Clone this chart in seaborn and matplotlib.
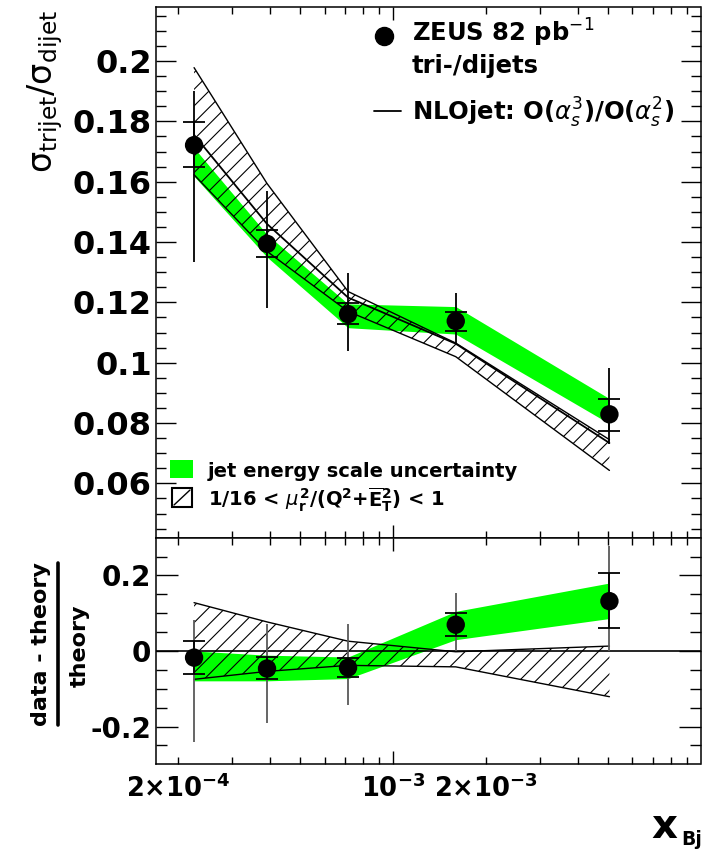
import matplotlib
matplotlib.use('Agg')
import numpy as np
import matplotlib.pyplot as plt
import seaborn as sns
from matplotlib.patches import Rectangle
from matplotlib.lines import Line2D

# x_Bj bin centres
x_bj = [2.26e-4, 3.9e-4, 7.15e-4, 1.6e-3, 5.05e-3]

# top panel: sigma_trijet / sigma_dijet
ratio_data = [0.1721, 0.1394, 0.1161, 0.1138, 0.0829]
stat_lo = [0.1649, 0.1352, 0.1128, 0.1106, 0.0773]
stat_hi = [0.1798, 0.1440, 0.1197, 0.1169, 0.0881]
tot_lo = [0.1333, 0.1181, 0.1039, 0.1064, 0.0732]
tot_hi = [0.1900, 0.1568, 0.1299, 0.1230, 0.0981]
jes_lo = [0.1618, 0.1350, 0.1116, 0.1095, 0.0798]
jes_hi = [0.1712, 0.1425, 0.1195, 0.1186, 0.0881]
nlo = [0.1755, 0.1460, 0.1216, 0.1063, 0.0734]
nlo_lo = [0.1623, 0.1369, 0.1170, 0.1020, 0.0643]
nlo_hi = [0.1978, 0.1594, 0.1236, 0.1065, 0.0745]

# bottom panel: (data - theory) / theory
diff_data = [-0.0175, -0.0465, -0.044, 0.0696, 0.132]
diff_stat_lo = [-0.0615, -0.0747, -0.0686, 0.0388, 0.0607]
diff_stat_hi = [0.0256, -0.0158, -0.0185, 0.1003, 0.2058]
diff_tot_lo = [-0.240, -0.1916, -0.1433, 0.0, 0.0]
diff_tot_hi = [0.081, 0.0704, 0.0704, 0.154, 0.279]
diff_jes_lo = [-0.079, -0.079, -0.073, 0.030, 0.086]
diff_jes_hi = [0.0, -0.011, -0.016, 0.105, 0.180]
diff_nlo_lo = [-0.075, -0.054, -0.038, -0.042, -0.121]
diff_nlo_hi = [0.128, 0.077, 0.026, -0.002, 0.013]

top_yticks = [0.06, 0.08, 0.1, 0.12, 0.14, 0.16, 0.18, 0.2]
bot_yticks = [-0.2, 0, 0.2]
x_minor = [2e-4, 3e-4, 4e-4, 5e-4, 6e-4, 7e-4, 8e-4, 9e-4,
           2e-3, 3e-3, 4e-3, 5e-3, 6e-3, 7e-3, 8e-3, 9e-3]
x_minor_labels = {2e-4: r'$\mathbf{2{\times}10^{-4}}$', 2e-3: r'$\mathbf{2{\times}10^{-3}}$'}

sns.set_style('ticks')
plt.rcParams['font.family'] = ['DejaVu Sans']
plt.rcParams['mathtext.fontset'] = 'dejavusans'
plt.rcParams['hatch.linewidth'] = 0.8
for k in ('text.color', 'axes.labelcolor', 'xtick.color', 'ytick.color', 'axes.edgecolor'):
    plt.rcParams[k] = 'black'

GREEN = '#00ff00'
W, H = 704, 849
fig = plt.figure(figsize=(W / 100, H / 100), dpi=100)


def fx(p):
    return p / W


def fy(p):
    return 1 - p / H


ax1 = fig.add_axes([fx(156), fy(537.7), fx(700.5) - fx(156), fy(6.7) - fy(537.7)])
ax2 = fig.add_axes([fx(156), fy(764.3), fx(700.5) - fx(156), fy(537.7) - fy(764.3)])


def draw_panel(ax, val, slo, shi, tlo, thi, jlo, jhi, tlo_band, thi_band, err_col):
    ax.set_xscale('log')
    ax.fill_between(x_bj, jlo, jhi, color=GREEN, lw=0, zorder=1)
    ax.fill_between(x_bj, tlo_band, thi_band, facecolor='none', edgecolor='black',
                    hatch='//', lw=0, zorder=2)
    sns.lineplot(x=x_bj, y=tlo_band, color='black', lw=1.0, ax=ax, zorder=3)
    sns.lineplot(x=x_bj, y=thi_band, color='black', lw=1.0, ax=ax, zorder=3)
    v = np.array(val)
    ax.errorbar(x_bj, v, yerr=[v - np.array(tlo), np.array(thi) - v], fmt='none',
                ecolor=err_col, elinewidth=1.3, zorder=4)
    ax.errorbar(x_bj, v, yerr=[v - np.array(slo), np.array(shi) - v], fmt='none',
                ecolor='black', elinewidth=1.3, capsize=7.8, capthick=1.3, zorder=4)
    sns.scatterplot(x=x_bj, y=val, color='black', s=175, edgecolor='none',
                    zorder=5, ax=ax)


draw_panel(ax1, ratio_data, stat_lo, stat_hi, tot_lo, tot_hi, jes_lo, jes_hi,
           nlo_lo, nlo_hi, 'black')
sns.lineplot(x=x_bj, y=nlo, color='black', lw=1.3, ax=ax1, zorder=3)

draw_panel(ax2, diff_data, diff_stat_lo, diff_stat_hi, diff_tot_lo, diff_tot_hi,
           diff_jes_lo, diff_jes_hi, diff_nlo_lo, diff_nlo_hi, '0.35')
ax2.axhline(0, color='black', lw=1.2, zorder=3)

for ax in (ax1, ax2):
    ax.set_xlim(1.7e-4, 9.98e-3)
    ax.set_xlabel('')
    ax.set_ylabel('')
    for s in ax.spines.values():
        s.set_color('black')
        s.set_linewidth(1.1)
    ax.set_xticks([1e-3])
    ax.set_xticks(x_minor, minor=True)
    ax.tick_params(axis='x', which='major', direction='in', length=9.7, width=1,
                   top=True, bottom=True)
    ax.tick_params(axis='x', which='minor', direction='in', length=4.7, width=1,
                   top=True, bottom=True)

ax1.set_ylim(0.042, 0.218)
ax1.set_yticks(top_yticks, labels=['%g' % t for t in top_yticks])
ax1.set_yticks(np.arange(0.045, 0.2181, 0.005), minor=True)
ax1.tick_params(axis='y', which='major', direction='in', length=14.4, width=1,
                left=True, right=True, labelsize=23, pad=3)
ax1.tick_params(axis='y', which='minor', direction='in', length=7.2, width=1,
                left=True, right=True)
ax1.tick_params(axis='x', which='both', labelbottom=False)
for lab in ax1.get_yticklabels():
    lab.set_fontweight('bold')

ax2.set_ylim(-0.3, 0.3)
ax2.set_yticks(bot_yticks, labels=['%g' % t for t in bot_yticks])
ax2.set_yticks(np.arange(-0.25, 0.26, 0.05), minor=True)
ax2.tick_params(axis='y', which='major', direction='in', length=16, width=1,
                left=True, right=True, labelsize=20, pad=3.5)
ax2.tick_params(axis='y', which='minor', direction='in', length=8, width=1,
                left=True, right=True)
ax2.set_xticks([1e-3], labels=[r'$\mathbf{10^{-3}}$'])
ax2.set_xticks(x_minor, labels=[x_minor_labels.get(t, '') for t in x_minor], minor=True)
ax2.tick_params(axis='x', which='both', labelsize=18.5, pad=7)
for lab in ax2.get_yticklabels():
    lab.set_fontweight('bold')

# axis titles
fig.text(fx(45), fy(91.5), r'$\mathrm{σ}_{\mathrm{trijet}}/\mathrm{σ}_{\mathrm{dijet}}$',
         rotation=90, ha='center', va='center', fontsize=24)
fig.text(fx(41), fy(644), 'data - theory', rotation=90, ha='center', va='center',
         fontsize=16, fontweight='bold')
fig.text(fx(80), fy(646), 'theory', rotation=90, ha='center', va='center',
         fontsize=16, fontweight='bold')
fig.add_artist(Line2D([fx(58.4), fx(58.4)], [fy(563), fy(725)], color='black', lw=2.6))
fig.text(fx(651), fy(838), 'x', ha='left', va='baseline', fontsize=29, fontweight='bold')
fig.text(fx(681), fy(845), 'Bj', ha='left', va='baseline', fontsize=13.5, fontweight='bold')

# legend, upper right
fig.add_artist(Line2D([fx(384)], [fy(36)], marker='o', ms=13, color='black', lw=0))
fig.text(fx(412), fy(42), r'ZEUS 82 pb$^{-1}$', ha='left', va='baseline',
         fontsize=17.5, fontweight='bold')
fig.text(fx(412), fy(73), 'tri-/dijets', ha='left', va='baseline',
         fontsize=17.5, fontweight='bold')
fig.add_artist(Line2D([fx(374), fx(401)], [fy(111), fy(111)], color='black', lw=1.3))
fig.text(fx(412), fy(121), r'NLOjet: O($\alpha_{s}^{3}$)/O($\alpha_{s}^{2}$)',
         ha='left', va='baseline', fontsize=17.5, fontweight='bold')

# legend, lower left
fig.add_artist(Rectangle((fx(170), fy(478)), fx(23), 18 / H, facecolor=GREEN,
                         edgecolor='none'))
fig.text(fx(208), fy(477), 'jet energy scale uncertainty', ha='left', va='baseline',
         fontsize=14, fontweight='bold')
fig.add_artist(Rectangle((fx(172), fy(507)), fx(20), 19 / H, facecolor='none',
                         edgecolor='black', lw=1.5))
fig.add_artist(Line2D([fx(174), fx(190)], [fy(505), fy(490)], color='black', lw=1.0))
fig.text(fx(208), fy(506),
         r'1/16 < $\mu_{\mathbf{r}}^{\mathbf{2}}$/(Q$^{\mathbf{2}}$+$\overline{\mathbf{E}}_{\mathbf{T}}^{\mathbf{2}}$) < 1',
         ha='left', va='baseline', fontsize=14, fontweight='bold')

fig.savefig('out.png', dpi=100)
